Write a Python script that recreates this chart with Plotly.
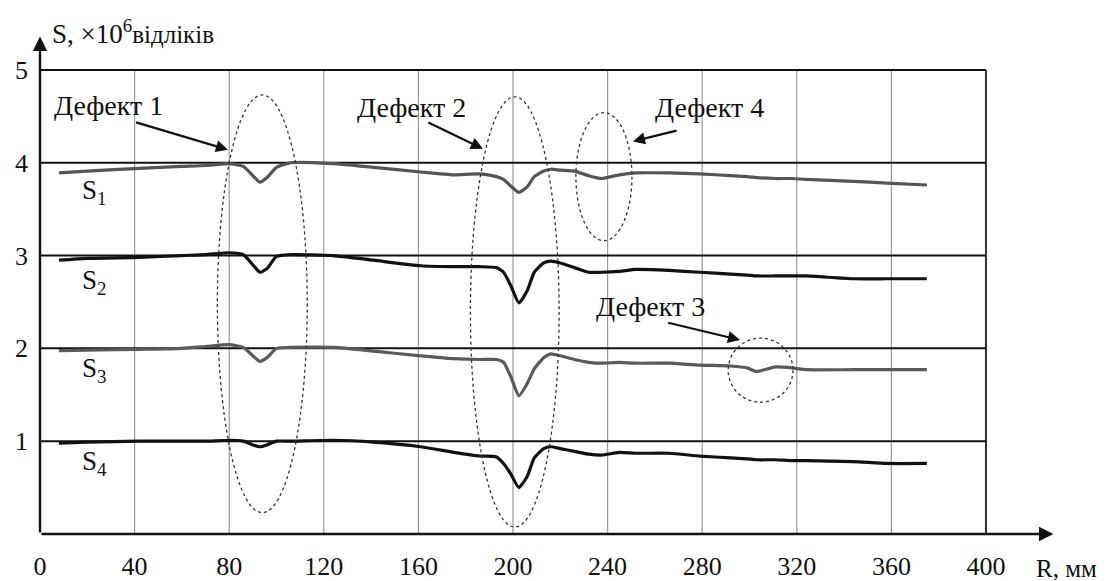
import plotly.graph_objects as go

# ---- data ----
R = [8, 20, 42, 60, 70, 80, 86, 90, 93, 96, 100, 106, 124, 141, 161, 175, 186, 193, 196, 199,
     202.5, 206, 209, 213, 216, 220, 226, 232, 237.5, 245, 252, 266, 279, 292, 299, 303, 311,
     318, 324, 344, 358, 375]

S1 = [3.89, 3.91, 3.94, 3.96, 3.97, 3.99, 3.96, 3.86, 3.79, 3.84, 3.95, 4.00, 3.99, 3.95, 3.90,
      3.87, 3.88, 3.85, 3.82, 3.75, 3.68, 3.74, 3.85, 3.91, 3.93, 3.92, 3.91, 3.86, 3.83, 3.87,
      3.89, 3.89, 3.88, 3.86, 3.85, 3.84, 3.83, 3.83, 3.82, 3.80, 3.78, 3.76]
S2 = [2.95, 2.97, 2.98, 3.00, 3.01, 3.03, 3.01, 2.90, 2.82, 2.86, 2.99, 3.01, 3.00, 2.95, 2.89,
      2.88, 2.88, 2.87, 2.82, 2.68, 2.49, 2.62, 2.82, 2.92, 2.94, 2.92, 2.87, 2.82, 2.82, 2.83,
      2.85, 2.84, 2.82, 2.80, 2.79, 2.78, 2.78, 2.78, 2.78, 2.75, 2.75, 2.75]
S3 = [1.975, 1.98, 1.99, 2.00, 2.02, 2.04, 2.01, 1.92, 1.86, 1.90, 2.00, 2.01, 2.01, 1.97, 1.92,
      1.89, 1.88, 1.88, 1.85, 1.70, 1.49, 1.62, 1.78, 1.90, 1.94, 1.92, 1.88, 1.85, 1.84, 1.85,
      1.84, 1.84, 1.82, 1.81, 1.79, 1.75, 1.80, 1.79, 1.77, 1.77, 1.77, 1.77]
S4 = [0.98, 0.99, 1.00, 1.00, 1.00, 1.01, 1.00, 0.96, 0.94, 0.96, 1.00, 1.00, 1.01, 0.99, 0.94,
      0.88, 0.84, 0.83, 0.76, 0.65, 0.50, 0.62, 0.82, 0.92, 0.94, 0.92, 0.89, 0.86, 0.85, 0.88,
      0.87, 0.87, 0.84, 0.82, 0.81, 0.80, 0.80, 0.79, 0.79, 0.78, 0.76, 0.76]

series_names = ["S<sub>1</sub>", "S<sub>2</sub>", "S<sub>3</sub>", "S<sub>4</sub>"]
series_vals = [S1, S2, S3, S4]
series_colors = ["#555555", "#111111", "#5a5a5a", "#111111"]
label_pos = [(23, 3.69), (23, 2.72), (23, 1.77), (23, 0.77)]

x_ticks = [0, 40, 80, 120, 160, 200, 240, 280, 320, 360, 400]
y_ticks = [1, 2, 3, 4, 5]

# defect ellipses: (x0, x1, y0, y1)
ellipses = [(75, 113, 0.23, 4.73), (182, 219.5, 0.075, 4.71),
            (226.6, 250.3, 3.16, 4.54), (291, 318.4, 1.42, 2.11)]
# defect labels: text, text position, arrow tail, arrow head
defects = [("Дефект 1", (29, 4.62), (40, 4.44), (79.5, 4.14)),
           ("Дефект 2", (157, 4.60), (163.6, 4.44), (187.3, 4.15)),
           ("Дефект 4", (283, 4.60), (269.8, 4.35), (250.7, 4.23)),
           ("Дефект 3", (258, 2.45), (265, 2.28), (296, 2.09))]

FONT = "Liberation Serif"

fig = go.Figure()
for name, vals, col in zip(series_names, series_vals, series_colors):
    fig.add_trace(go.Scatter(x=R, y=vals, mode="lines", name=name,
                             line=dict(color=col, width=3.2, shape="spline", smoothing=0.5),
                             showlegend=False))

shapes = []
# vertical grid lines
for xv in x_ticks[1:]:
    shapes.append(dict(type="line", x0=xv, x1=xv, y0=0, y1=5, xref="x", yref="y",
                       line=dict(color="#333333" if xv == 400 else "#9a9a9a",
                                 width=2 if xv == 400 else 1.2), layer="below"))
# horizontal lines
for yv in y_ticks:
    shapes.append(dict(type="line", x0=0, x1=400, y0=yv, y1=yv, xref="x", yref="y",
                       line=dict(color="#111111", width=2), layer="below"))
# ellipses
for (x0, x1, y0, y1) in ellipses:
    shapes.append(dict(type="circle", x0=x0, x1=x1, y0=y0, y1=y1, xref="x", yref="y",
                       line=dict(color="#333333", width=1.3, dash="dot")))

annotations = []
for txt, (tx, ty), (ax, ay), (hx, hy) in defects:
    annotations.append(dict(x=tx, y=ty, text=txt, showarrow=False, xref="x", yref="y",
                            font=dict(family=FONT, size=28, color="#111111")))
    annotations.append(dict(x=hx, y=hy, ax=ax, ay=ay, xref="x", yref="y", axref="x", ayref="y",
                            text="", showarrow=True, arrowhead=2, arrowsize=1.1, arrowwidth=2.2,
                            arrowcolor="#111111"))
for name, (lx, ly) in zip(series_names, label_pos):
    annotations.append(dict(x=lx, y=ly, text=name, showarrow=False, xref="x", yref="y",
                            font=dict(family=FONT, size=27, color="#111111")))
# axis arrows
annotations.append(dict(x=428.5, y=0, ax=0, ay=0, xref="x", yref="y", axref="x", ayref="y",
                        text="", showarrow=True, arrowhead=2, arrowsize=1.2, arrowwidth=2.4,
                        arrowcolor="#111111"))
annotations.append(dict(x=0, y=5.36, ax=0, ay=0, xref="x", yref="y", axref="x", ayref="y",
                        text="", showarrow=True, arrowhead=2, arrowsize=1.2, arrowwidth=2.4,
                        arrowcolor="#111111"))
# axis titles (paper coordinates; plot area spans 1020 x 504 px)
annotations.append(dict(x=10 / 1020, y=1.0 - 2 / 504, xanchor="left", yanchor="middle",
                        xref="paper", yref="paper",
                        text="S, ×10<sup>6</sup><span style='font-size:25px'>відліків</span>",
                        showarrow=False, font=dict(family=FONT, size=27, color="#111111")))
annotations.append(dict(x=(1099 - 40) / 1020, y=-34 / 504, xanchor="right", yanchor="middle",
                        xref="paper", yref="paper",
                        text="R, мм", showarrow=False,
                        font=dict(family=FONT, size=25, color="#111111")))

# the page body adds an 8px offset, so the figure is 8px smaller with margins shifted
fig.update_layout(
    width=1098, height=573,
    margin=dict(l=32, r=46, t=22, b=47, autoexpand=False),
    paper_bgcolor="white", plot_bgcolor="white",
    shapes=shapes, annotations=annotations,
    xaxis=dict(range=[0, 431.3], tickvals=x_ticks, ticktext=[str(v) for v in x_ticks],
               showgrid=False, zeroline=False, showline=False, ticks="", automargin=False,
               ticklabelstandoff=14,
               tickfont=dict(family=FONT, size=26, color="#111111")),
    yaxis=dict(range=[0, 5.43], tickvals=y_ticks, ticktext=[str(v) for v in y_ticks],
               showgrid=False, zeroline=False, showline=False, ticks="", automargin=False,
               ticklabelstandoff=11,
               tickfont=dict(family=FONT, size=26, color="#111111")),
)

fig.write_html("out.html")
